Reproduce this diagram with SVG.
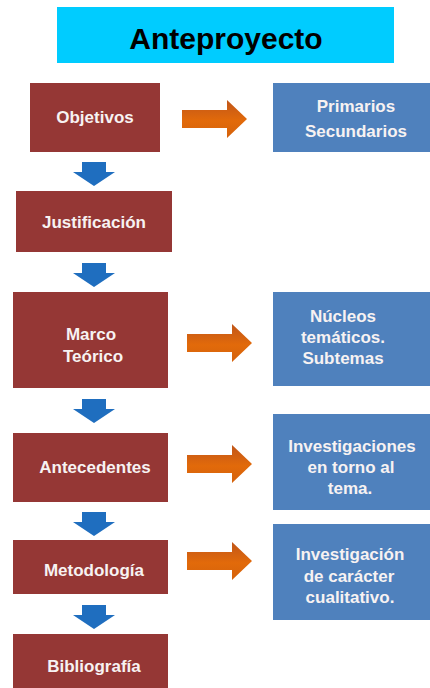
<svg xmlns="http://www.w3.org/2000/svg" width="430" height="688" viewBox="0 0 430 688">
<defs>
<style>
.red{fill:#953735}
.blue{fill:#4f81bd}
.t{font-family:"Liberation Sans",Arial,sans-serif;font-weight:bold;font-size:17px;fill:#f7f2f2;text-anchor:middle}
.title{font-family:"Liberation Sans",Arial,sans-serif;font-weight:bold;font-size:30px;fill:#000;text-anchor:middle}
.down{fill:#1f6ebf}
.right{fill:url(#og)}
</style>
<linearGradient id="og" x1="0" y1="0" x2="0" y2="1">
<stop offset="0" stop-color="#c0561a"/>
<stop offset="0.55" stop-color="#e26a0a"/>
<stop offset="1" stop-color="#d4620c"/>
</linearGradient>
<path id="darr" d="M-12,0 H12 V10 H21 L0,24 L-21,10 H-12 Z"/>
<path id="rarr" d="M0,-9 H45 V-19 L65,0 L45,19 V9 H0 Z"/>
</defs>
<g id="title">
<rect x="57" y="7" width="337" height="56" fill="#00ccff"/>
<text class="title" x="226" y="49">Anteproyecto</text>
</g>
<g id="objetivos">
<rect class="red" x="30" y="83" width="130" height="69"/>
<text class="t" x="95" y="123">Objetivos</text>
</g>
<g id="primarios">
<rect class="blue" x="273" y="83" width="157" height="69"/>
<text class="t" x="356" y="112">Primarios</text>
<text class="t" x="356" y="137">Secundarios</text>
</g>
<g id="justificacion">
<rect class="red" x="16" y="191" width="156" height="61"/>
<text class="t" x="94" y="228">Justificación</text>
</g>
<g id="marco">
<rect class="red" x="13" y="292" width="155" height="96"/>
<text class="t" x="91" y="340">Marco</text>
<text class="t" x="93" y="362">Teórico</text>
</g>
<g id="nucleos">
<rect class="blue" x="273" y="292" width="157" height="94"/>
<text class="t" x="343" y="322">Núcleos</text>
<text class="t" x="343" y="343">temáticos.</text>
<text class="t" x="343" y="364">Subtemas</text>
</g>
<g id="antecedentes">
<rect class="red" x="13" y="433" width="155" height="69"/>
<text class="t" x="95" y="473">Antecedentes</text>
</g>
<g id="investigaciones">
<rect class="blue" x="273" y="414" width="157" height="96"/>
<text class="t" x="352" y="452">Investigaciones</text>
<text class="t" x="351" y="473">en torno al</text>
<text class="t" x="350" y="494">tema.</text>
</g>
<g id="metodologia">
<rect class="red" x="13" y="540" width="155" height="54"/>
<text class="t" x="94" y="576">Metodología</text>
</g>
<g id="investigacion">
<rect class="blue" x="273" y="524" width="157" height="96"/>
<text class="t" x="350" y="560">Investigación</text>
<text class="t" x="349" y="582">de carácter</text>
<text class="t" x="350" y="603">cualitativo.</text>
</g>
<g id="bibliografia">
<rect class="red" x="13" y="634" width="155" height="54"/>
<text class="t" x="94" y="672">Bibliografía</text>
</g>
<g id="connectors">
<use href="#darr" class="down" x="94" y="162"/>
<use href="#darr" class="down" x="94" y="263"/>
<use href="#darr" class="down" x="94" y="399"/>
<use href="#darr" class="down" x="94" y="512"/>
<use href="#darr" class="down" x="94" y="605"/>
<use href="#rarr" class="right" x="182" y="119"/>
<use href="#rarr" class="right" x="187" y="343"/>
<use href="#rarr" class="right" x="187" y="464"/>
<use href="#rarr" class="right" x="187" y="561"/>
</g>
</svg>
